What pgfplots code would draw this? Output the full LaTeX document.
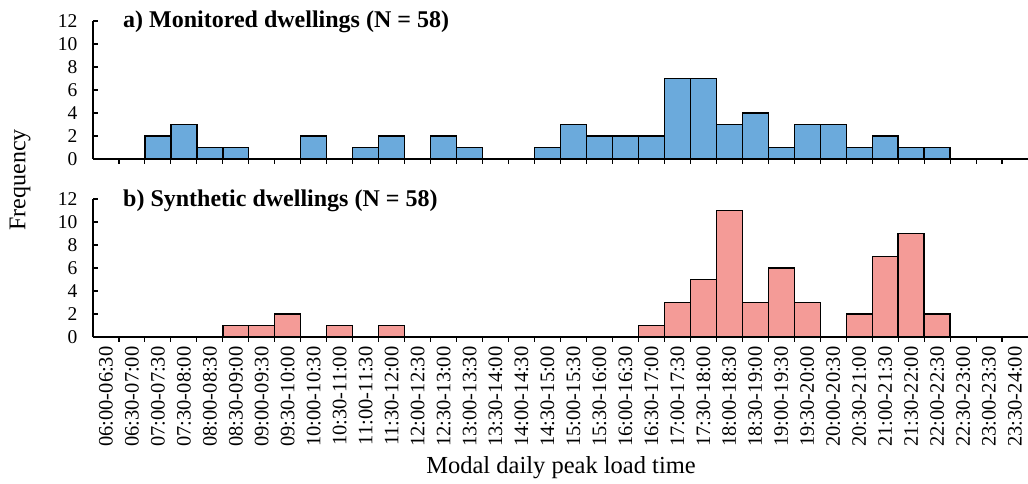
\documentclass[border=0pt]{standalone}
\usepackage{fontspec}
\setmainfont{Liberation Serif}
\usepackage{pgfplots}
\pgfplotsset{compat=1.18}
\definecolor{barblue}{HTML}{6BAADC}
\definecolor{barpink}{HTML}{F49B97}
\pgfplotsset{
 panel/.style={
  at={(93pt,#1)}, anchor=south west, scale only axis, width=935pt, height=138pt,
  xmin=-0.5, xmax=35.5, ymin=0, ymax=12, ytick={0,2,...,12},
  axis x line*=bottom, axis y line*=left,
  axis line style={line width=1.4pt, -},
  tick align=inside, major tick length=5pt,
  every tick/.style={black, line width=1.1pt},
  xtick={0.5,1.5,...,34.5}, xticklabels={},
  ybar, bar width=1, bar shift=0pt,
  /pgf/number format/assume math mode=true,
  ticklabel style={font=\fontsize{19.5}{19.5}\selectfont},
  yticklabel shift=12pt,
  clip=false,
 }
}
\begin{document}
\begin{tikzpicture}
\begin{axis}[panel=325pt]
\addplot[fill=barblue, draw=black, line width=1.3pt] coordinates {
(2,2) (3,3) (4,1) (5,1) (8,2) (10,1) (11,2) (13,2) (14,1)
(17,1) (18,3) (19,2) (20,2) (21,2) (22,7) (23,7) (24,3) (25,4)
(26,1) (27,3) (28,3) (29,1) (30,2) (31,1) (32,1)};
\end{axis}
\begin{axis}[panel=147pt,
  xticklabel shift=6pt,
  extra x ticks={0,...,35},
  extra x tick labels={06:00-06:30,06:30-07:00,07:00-07:30,07:30-08:00,08:00-08:30,08:30-09:00,09:00-09:30,09:30-10:00,10:00-10:30,10:30-11:00,11:00-11:30,11:30-12:00,12:00-12:30,12:30-13:00,13:00-13:30,13:30-14:00,14:00-14:30,14:30-15:00,15:00-15:30,15:30-16:00,16:00-16:30,16:30-17:00,17:00-17:30,17:30-18:00,18:00-18:30,18:30-19:00,19:00-19:30,19:30-20:00,20:00-20:30,20:30-21:00,21:00-21:30,21:30-22:00,22:00-22:30,22:30-23:00,23:00-23:30,23:30-24:00},
  extra x tick style={major tick length=0pt, xticklabel style={rotate=90, anchor=east, font=\fontsize{20.5}{20.5}\selectfont}},
]
\addplot[fill=barpink, draw=black, line width=1.3pt] coordinates {
(5,1) (6,1) (7,2) (9,1) (11,1) (21,1) (22,3) (23,5) (24,11)
(25,3) (26,6) (27,3) (29,2) (30,7) (31,9) (32,2)};
\end{axis}
\node[rotate=90, font=\fontsize{24}{24}\selectfont] at (20pt,304pt) {Frequency};
\node[font=\fontsize{24.5}{24.5}\selectfont] at (561pt,16pt) {Modal daily peak load time};
\node[anchor=base west, inner sep=0pt, font=\bfseries\fontsize{24}{24}\selectfont] at (123pt,456pt) {a) Monitored dwellings (N = 58)};
\node[anchor=base west, inner sep=0pt, font=\bfseries\fontsize{24}{24}\selectfont] at (123pt,277pt) {b) Synthetic dwellings (N = 58)};
\pgfresetboundingbox
\useasboundingbox (0,0) rectangle (1028pt,484pt);
\end{tikzpicture}
\end{document}
